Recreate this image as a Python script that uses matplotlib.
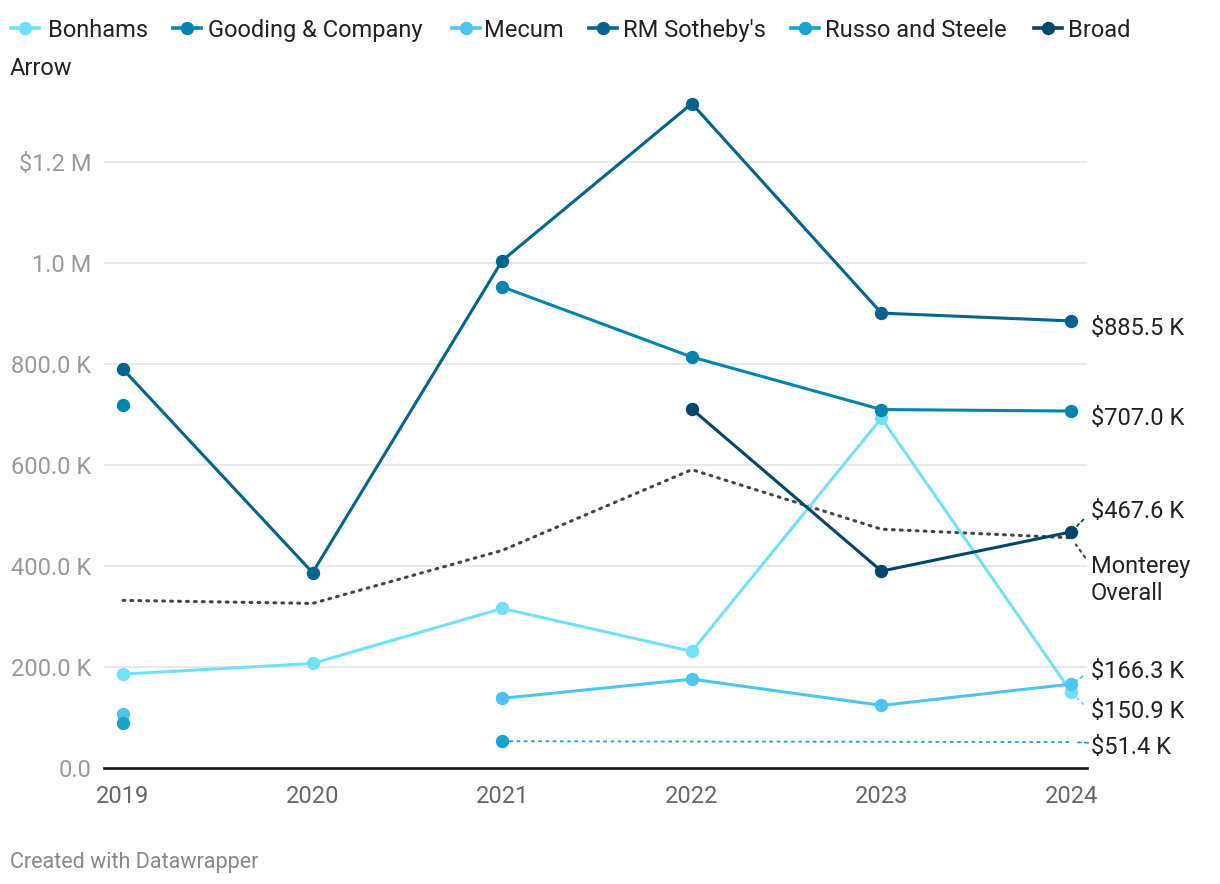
import numpy as np
import matplotlib
matplotlib.use("Agg")
import matplotlib.pyplot as plt
from matplotlib.lines import Line2D

plt.rcParams['font.family'] = ['Roboto', 'DejaVu Sans']

years = [2019, 2020, 2021, 2022, 2023, 2024]
nan = np.nan
bonhams = [186, 207, 316, 231, 693, 150.9]
gooding = [718, nan, 953, 814, 710, 707.0]
mecum = [106, nan, 138, 176, 124, 166.3]
rm_sothebys = [790, 387, 1005, 1316, 901, 885.5]
russo = [89, nan, 53, nan, nan, 51.4]
broad_arrow = [nan, nan, nan, 711, 390, 467.6]
monterey = [332, 326, 431, 591, 473, 456]

series_names = ["Bonhams", "Gooding & Company", "Mecum", "RM Sotheby's",
                "Russo and Steele", "Broad Arrow"]
series_vals = [bonhams, gooding, mecum, rm_sothebys, russo, broad_arrow]
series_colors = ["#70e1f9", "#0085ae", "#4dc5ee", "#00648c", "#19a3d0", "#00466b"]
end_labels = ["$150.9 K", "$707.0 K", "$166.3 K", "$885.5 K", "$51.4 K", "$467.6 K"]

ytick_vals = [0, 200, 400, 600, 800, 1000, 1200]
ytick_labels = ["0.0", "200.0 K", "400.0 K", "600.0 K", "800.0 K", "1.0 M", "$1.2 M"]

FS = 17

fig = plt.figure(figsize=(12.2, 8.84), dpi=100)
ax = fig.add_axes([104/1220, 1-768/884, (1087-104)/1220, (768-95)/884])
ax.set_xlim(2018.9, 2024.084)
ax.set_ylim(0, 1333)

for s in ['top', 'right', 'left']:
    ax.spines[s].set_visible(False)
ax.spines['bottom'].set_color('#111111')
ax.spines['bottom'].set_linewidth(1.9)
ax.spines['bottom'].set_zorder(6)

ax.set_yticks(ytick_vals)
ax.set_yticklabels(ytick_labels)
ax.set_xticks(years)
ax.set_xticklabels([str(y) for y in years])
ax.tick_params(axis='y', length=0, pad=9, labelsize=FS, labelcolor='#9a9a9a')
ax.tick_params(axis='x', length=0, pad=12, labelsize=FS, labelcolor='#666666')
ax.grid(axis='y', color='#e3e3e3', linewidth=1.1)
ax.set_axisbelow(True)

yrs = np.array(years, dtype=float)

# Monterey overall (dotted)
ax.plot(yrs, monterey, color='#444444', linewidth=2.2, linestyle=(0, (0.6, 2.0)),
        dash_capstyle='round', zorder=2)

LW = 2.2
MS = 8.6
for name, vals, col in zip(series_names, series_vals, series_colors):
    v = np.array(vals, dtype=float)
    if name == "Russo and Steele":
        ok = ~np.isnan(v)
        idx = np.where(ok)[0]
        seg = idx[idx >= 2]
        ax.plot(yrs[seg], v[seg], color=col, linewidth=1.3, linestyle=(0, (2.0, 2.0)), zorder=3)
        ax.plot(yrs[[0, 2]], v[[0, 2]], linestyle='none', marker='o', markersize=MS,
                color=col, zorder=4)
        continue
    ax.plot(yrs, v, color=col, linewidth=LW, marker='o', markersize=MS, zorder=3)

# End labels
label_offsets = {  # pixel offsets (up positive) from the data point
    "Bonhams": -20, "Gooding & Company": -7, "Mecum": 13, "RM Sotheby's": -8,
    "Russo and Steele": -5, "Broad Arrow": 20,
}
connect = {"Bonhams", "Mecum", "Broad Arrow", "Russo and Steele"}
px = 0.72
for name, vals, col, lab in zip(series_names, series_vals, series_colors, end_labels):
    dy = label_offsets[name]
    ap = None
    if name in connect:
        russo_like = name == "Russo and Steele"
        ap = dict(arrowstyle='-', color=col,
                  linestyle=(0, (2.0, 2.0)) if russo_like else (0, (1.5, 2)),
                  linewidth=1.3, shrinkA=0 if russo_like else 5, shrinkB=5,
                  relpos=(0, 0.68) if russo_like else (0, 0.5))
    ax.annotate(lab, xy=(2024, vals[-1]), xytext=(20*px, dy*px), textcoords='offset points',
                fontsize=FS, color='#222222', va='center', ha='left',
                arrowprops=ap, annotation_clip=False, zorder=7)

ax.annotate("Monterey\nOverall", xy=(2024, monterey[-1]), xytext=(20*px, -42*px),
            textcoords='offset points', fontsize=FS, color='#222222', va='center', ha='left',
            linespacing=1.2,
            arrowprops=dict(arrowstyle='-', color='#444444', linestyle=(0, (1, 2.2)), linewidth=1.6,
                            shrinkA=4, shrinkB=6, relpos=(0, 0.78)),
            annotation_clip=False, zorder=7)

# Legend (manual, wrapped like the reference)
leg_marker_x = [25, 187, 466, 603, 805, 1048]
leg_text_x = [48, 208, 484, 623, 825, 1068]
leg_labels = ["Bonhams", "Gooding & Company", "Mecum", "RM Sotheby's", "Russo and Steele", "Broad"]
ly = 1 - 28/884
for mx, tx, lab, col in zip(leg_marker_x, leg_text_x, leg_labels, series_colors):
    fig.add_artist(Line2D([(mx-14)/1220, (mx+14)/1220], [ly, ly], color=col, linewidth=2.6,
                          transform=fig.transFigure))
    fig.add_artist(Line2D([mx/1220], [ly], color=col, marker='o', markersize=8.6,
                          transform=fig.transFigure))
    fig.text(tx/1220, ly, lab, fontsize=FS, color='#222222', va='center_baseline', ha='left')
fig.text(10/1220, 1-66/884, "Arrow", fontsize=FS, color='#222222', va='center_baseline', ha='left')

fig.text(10/1220, 1-860/884, "Created with Datawrapper", fontsize=15.5, color='#888888',
         va='center_baseline', ha='left')

fig.savefig("out.png", dpi=100)
